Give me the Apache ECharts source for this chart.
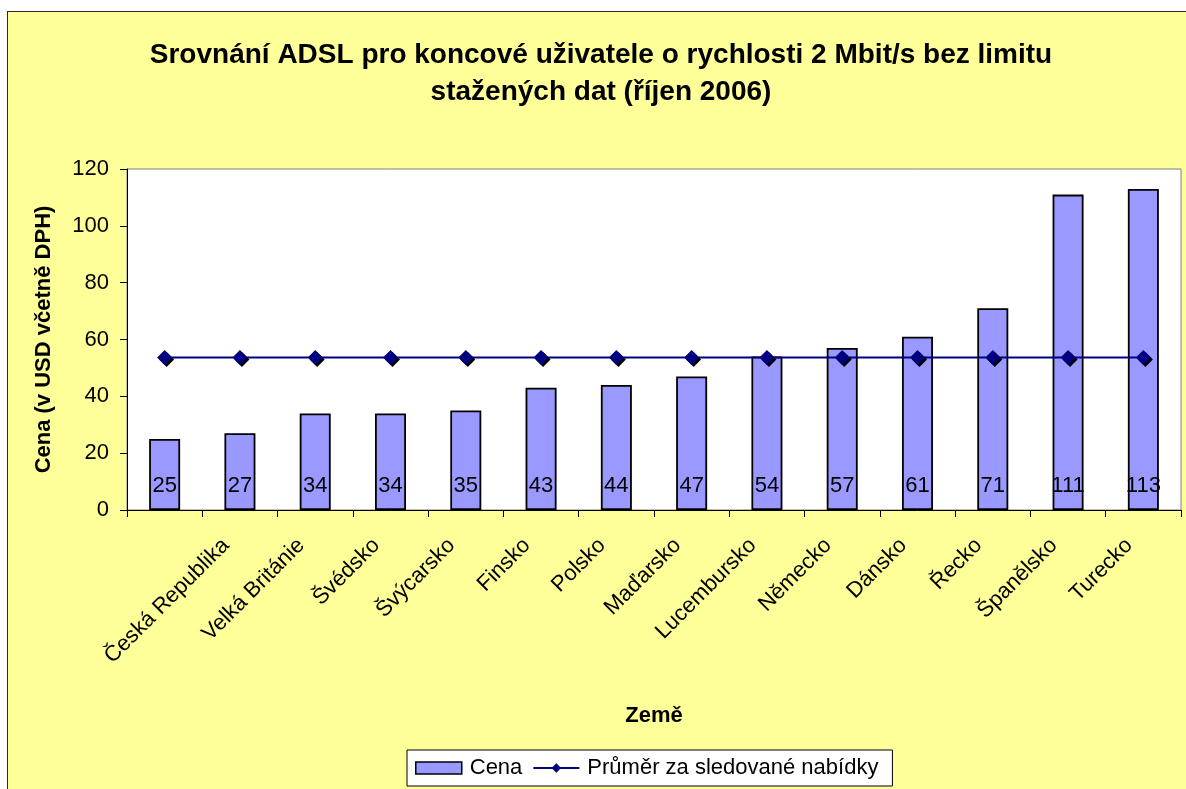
<!DOCTYPE html>
<html>
<head>
<meta charset="utf-8">
<script src="https://cdn.jsdelivr.net/npm/echarts@6/dist/echarts.min.js"></script>
<style>
  html, body { margin: 0; padding: 0; background: #ffffff; overflow: hidden; }
  #frame { position: absolute; left: 7px; top: 11px; width: 1200px; height: 800px;
           background: #FFFF99; border: 1px solid #2a2a2a; box-sizing: border-box; }
  #chart { position: absolute; left: 0; top: 0; width: 1186px; height: 789px; }
</style>
</head>
<body>
<div id="frame"></div>
<div id="chart"></div>
<script>
// ---- data ----
const titleText = 'Srovnání ADSL pro koncové uživatele o rychlosti 2 Mbit/s bez limitu\nstažených dat (říjen 2006)';
const categories = ['', 'Česká Republika', 'Velká Británie', 'Švédsko', 'Švýcarsko', 'Finsko', 'Polsko',
                    'Maďarsko', 'Lucembursko', 'Německo', 'Dánsko', 'Řecko', 'Španělsko', 'Turecko'];
const cena = [25, 27, 34, 34, 35, 43, 44, 47, 54, 57, 61, 71, 111, 113];
const prumer = [53.7, 53.7, 53.7, 53.7, 53.7, 53.7, 53.7, 53.7, 53.7, 53.7, 53.7, 53.7, 53.7, 53.7];
const seriesNames = ['Cena', 'Průměr za sledované nabídky'];
const yAxisName = 'Cena (v USD včetně DPH)';
const xAxisName = 'Země';

const FONT = 'Liberation Sans, Arial, sans-serif';
const chart = echarts.init(document.getElementById('chart'), null, { renderer: 'canvas' });
chart.setOption({
  backgroundColor: 'transparent',
  animation: false,
  textStyle: { fontFamily: FONT },
  graphic: [{
    type: 'text', x: 601, y: 37, z: 10,
    style: { text: titleText, fill: '#000', font: 'bold 28px ' + FONT,
             align: 'center', verticalAlign: 'top', lineHeight: 37 }
  }],
  grid: { left: 127, top: 169, right: 5, bottom: 279, show: true,
          backgroundColor: '#ffffff', borderColor: '#808080', borderWidth: 1 },
  legend: {
    bottom: 3, left: 407,
    backgroundColor: '#ffffff', borderColor: '#000', borderWidth: 1,
    padding: [7, 14, 7, 8], itemWidth: 46, itemHeight: 12, itemGap: 10,
    textStyle: { fontSize: 22, color: '#000', fontFamily: FONT, padding: [0, 0, 0, 3] },
    data: [
      { name: seriesNames[0], icon: 'rect', itemStyle: { color: '#9999FF', borderColor: '#000', borderWidth: 1.5 } },
      { name: seriesNames[1] }
    ]
  },
  xAxis: {
    type: 'category', data: categories, boundaryGap: true,
    name: xAxisName, nameLocation: 'middle', nameGap: 195,
    nameTextStyle: { fontSize: 22, fontWeight: 'bold', color: '#000', fontFamily: FONT },
    axisLine: { lineStyle: { color: '#000', width: 1 } },
    axisTick: { show: true, alignWithLabel: false, length: 7, lineStyle: { color: '#000' } },
    axisLabel: { interval: 0, rotate: 45, margin: 18, padding: [0, 20, 0, 0],
                 fontSize: 22, color: '#000', fontFamily: FONT },
    splitLine: { show: false }
  },
  yAxis: {
    type: 'value', min: 0, max: 120, interval: 20,
    name: yAxisName, nameLocation: 'middle', nameGap: 72, nameRotate: 90,
    nameTextStyle: { fontSize: 22, fontWeight: 'bold', color: '#000', fontFamily: FONT },
    axisLine: { show: true, lineStyle: { color: '#000', width: 1 } },
    axisTick: { show: true, length: 7, lineStyle: { color: '#000' } },
    axisLabel: { margin: 18, fontSize: 22, color: '#000', fontFamily: FONT },
    splitLine: { show: false }
  },
  series: [
    {
      name: seriesNames[0], type: 'bar', data: cena, barWidth: 31,
      itemStyle: { color: '#9999FF', borderColor: '#000', borderWidth: 1.8 },
      label: { show: true, position: 'insideBottom', distance: 13,
               fontSize: 22, color: '#000', fontFamily: FONT }
    },
    {
      name: seriesNames[1], type: 'line', data: prumer,
      symbol: 'diamond', symbolSize: 15, showSymbol: true,
      lineStyle: { color: '#000080', width: 2 },
      itemStyle: { color: '#000080', borderWidth: 0, shadowColor: '#000',
                   shadowOffsetX: 2, shadowOffsetY: 2, shadowBlur: 0 },
      z: 5
    }
  ]
});
</script>
</body>
</html>
